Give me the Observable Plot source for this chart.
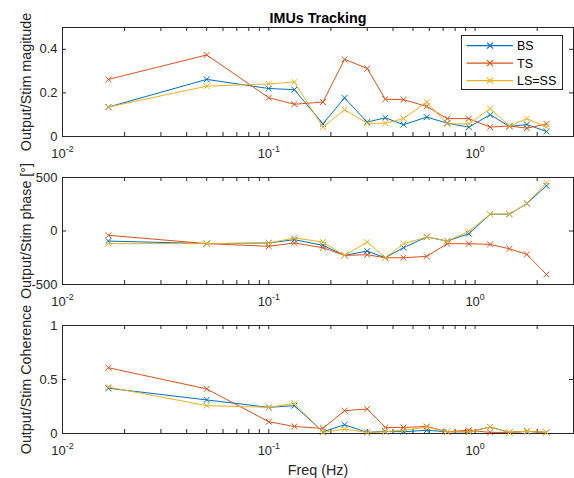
<!DOCTYPE html>
<html><head><meta charset="utf-8">
<script src="https://cdn.jsdelivr.net/npm/d3@7"></script>
<script src="https://cdn.jsdelivr.net/npm/@observablehq/plot@0.6"></script>
<style>
body{margin:0;background:#fff;}
#wrap{position:relative;width:574px;height:478px;font-family:"Liberation Sans",Arial,Helvetica,sans-serif;color:#262626;}
#wrap svg{display:block;}
#legend{position:absolute;left:461px;top:35px;}
</style></head><body><div id="wrap"></div>
<script>
// ---- data ----
const freq = [0.0167, 0.05, 0.1, 0.133, 0.183, 0.233, 0.3, 0.367, 0.45, 0.583, 0.733, 0.933, 1.183, 1.467, 1.783, 2.217];

const magBS = [0.135, 0.262, 0.220, 0.215, 0.058, 0.177, 0.066, 0.086, 0.054, 0.089, 0.061, 0.043, 0.100, 0.046, 0.055, 0.023];
const magTS = [0.262, 0.374, 0.178, 0.148, 0.158, 0.354, 0.312, 0.171, 0.169, 0.138, 0.082, 0.082, 0.043, 0.048, 0.038, 0.058];
const magLS = [0.135, 0.231, 0.241, 0.250, 0.043, 0.123, 0.061, 0.061, 0.082, 0.158, 0.058, 0.058, 0.128, 0.048, 0.082, 0.043];

const phBS = [-94, -118, -112, -81, -134, -228, -188, -250, -156, -56, -94, -25, 157, 157, 257, 422];
const phTS = [-40, -118, -143, -112, -156, -228, -222, -250, -250, -237, -119, -119, -125, -166, -219, -406];
const phLS = [-118, -118, -112, -65, -103, -228, -103, -250, -119, -56, -94, -3, 157, 157, 257, 450];

const cohBS = [0.419, 0.311, 0.242, 0.258, 0.016, 0.081, 0.010, 0.020, 0.016, 0.030, 0.016, 0.016, 0.060, 0.010, 0.020, 0.010];
const cohTS = [0.609, 0.413, 0.109, 0.065, 0.047, 0.211, 0.227, 0.056, 0.056, 0.065, 0.016, 0.030, 0.010, 0.010, 0.020, 0.010];
const cohLS = [0.430, 0.258, 0.242, 0.279, 0.010, 0.041, 0.010, 0.016, 0.030, 0.060, 0.016, 0.016, 0.060, 0.010, 0.020, 0.010];

const series = ["BS", "TS", "LS=SS"];
const colors = ["#0072BD", "#D95319", "#EDB120"];

const xMajor = [0.01, 0.1, 1];
const xTickLabels = ["10^-2", "10^-1", "10^0"];
const xMinor = [0.02,0.03,0.04,0.05,0.06,0.07,0.08,0.09,0.2,0.3,0.4,0.5,0.6,0.7,0.8,0.9,2,3];
const xDomain = [0.01, 3];

const magTicks = [0, 0.2, 0.4], magTickLabels = ["0", "0.2", "0.4"];
const phTicks = [-500, 0, 500], phTickLabels = ["-500", "0", "500"];
const cohTicks = [0, 0.5, 1], cohTickLabels = ["0", "0.5", "1"];

const title = "IMUs Tracking";
const xLabel = "Freq (Hz)";
const yLabels = ["Output/Stim magitude", "Output/Stim phase [°]", "Output/Stim Coherence"];

// ---- drawing ----
const W = 574, ML = 62, MR = 1, AX = "#262626";

function panel({values, yDomain, yTicks, yTickLabels, height, mt, mb, ylabel, extra = []}) {
  const frameH = height - mt - mb, frameW = W - ML - MR;
  const allX = xMajor.concat(xMinor);
  const marks = [
    Plot.frame({stroke: AX, strokeWidth: 1}),
    Plot.tickX(allX, {x: d => d, insetTop: frameH - 4, stroke: AX}),
    Plot.tickX(allX, {x: d => d, insetBottom: frameH - 4, stroke: AX}),
    Plot.tickY(yTicks, {y: d => d, insetRight: frameW - 4, stroke: AX}),
    Plot.tickY(yTicks, {y: d => d, insetLeft: frameW - 4, stroke: AX}),
    Plot.axisX(xMajor, {label: null, tickSize: 0, tickPadding: 12, tickFormat: d => xTickLabels[xMajor.indexOf(d)], fontSize: 13}),
    Plot.axisY(yTicks, {label: null, tickSize: 0, tickPadding: 5, tickFormat: d => yTickLabels[yTicks.indexOf(d)], fontSize: 13}),
    Plot.text([ylabel], {text: d => d, frameAnchor: "left", dx: -32, rotate: -90, textAnchor: "middle", lineAnchor: "bottom", fontSize: 14.3, fill: AX})
  ];
  series.forEach((s, i) => {
    const rows = freq.map((f, j) => ({f, v: values[i][j], s}));
    marks.push(Plot.line(rows, {x: "f", y: "v", stroke: colors[i], strokeWidth: 1}));
    marks.push(Plot.dot(rows, {x: "f", y: "v", symbol: "times", r: 2.8, stroke: colors[i], strokeWidth: 1}));
  });
  marks.push(...extra);
  const svg = Plot.plot({
    width: W, height,
    marginLeft: ML, marginRight: MR, marginTop: mt, marginBottom: mb,
    style: {fontFamily: '"Liberation Sans", Arial, Helvetica, sans-serif', fontSize: "13px", color: AX, background: "transparent", overflow: "visible"},
    x: {type: "log", domain: xDomain, label: null},
    y: {domain: yDomain, label: null},
    marks
  });
  // superscripts on log tick labels
  svg.querySelectorAll('g[aria-label="x-axis tick label"] text').forEach(t => {
    const m = t.textContent.split("^");
    if (m.length === 2) {
      t.textContent = "";
      const a = document.createElementNS("http://www.w3.org/2000/svg", "tspan");
      a.textContent = m[0];
      const b = document.createElementNS("http://www.w3.org/2000/svg", "tspan");
      b.textContent = m[1];
      b.setAttribute("font-size", "0.68em");
      b.setAttribute("dy", "-0.62em");
      t.appendChild(a); t.appendChild(b);
    }
  });
  return svg;
}

const wrap = document.getElementById("wrap");
wrap.appendChild(panel({
  values: [magBS, magTS, magLS], yDomain: [0, 0.5], yTicks: magTicks, yTickLabels: magTickLabels,
  height: 160, mt: 27, mb: 24, ylabel: yLabels[0],
  extra: [Plot.text([title], {text: d => d, frameAnchor: "top", dy: -4.5, lineAnchor: "bottom", fontWeight: "bold", fontSize: 14.3, fill: "#000"})]
}));
wrap.appendChild(panel({
  values: [phBS, phTS, phLS], yDomain: [-500, 500], yTicks: phTicks, yTickLabels: phTickLabels,
  height: 150, mt: 17, mb: 26, ylabel: yLabels[1]
}));
wrap.appendChild(panel({
  values: [cohBS, cohTS, cohLS], yDomain: [0, 1], yTicks: cohTicks, yTickLabels: cohTickLabels,
  height: 168, mt: 15, mb: 45, ylabel: yLabels[2],
  extra: [Plot.text([xLabel], {text: d => d, frameAnchor: "bottom", dy: 31, lineAnchor: "top", fontSize: 14.3, fill: AX})]
}));

// legend (MATLAB style box, top-right of first panel)
const NS = "http://www.w3.org/2000/svg";
const lg = document.createElementNS(NS, "svg");
lg.setAttribute("id", "legend");
lg.setAttribute("width", 103); lg.setAttribute("height", 56);
let inner = `<rect x="0.5" y="0.5" width="101" height="54" fill="#fff" stroke="${AX}" stroke-width="1"/>`;
series.forEach((s, i) => {
  const cy = 10.7 + i * 17.5;
  inner += `<line x1="5.5" x2="52" y1="${cy}" y2="${cy}" stroke="${colors[i]}" stroke-width="1.2"/>`;
  inner += `<path d="M${29-3},${cy-3}L${29+3},${cy+3}M${29-3},${cy+3}L${29+3},${cy-3}" stroke="${colors[i]}" stroke-width="1.2"/>`;
  inner += `<text x="56" y="${cy + 4.4}" font-size="12.5" fill="#000" font-family="Liberation Sans, Arial, sans-serif">${s}</text>`;
});
lg.innerHTML = inner;
wrap.appendChild(lg);
</script></body></html>
